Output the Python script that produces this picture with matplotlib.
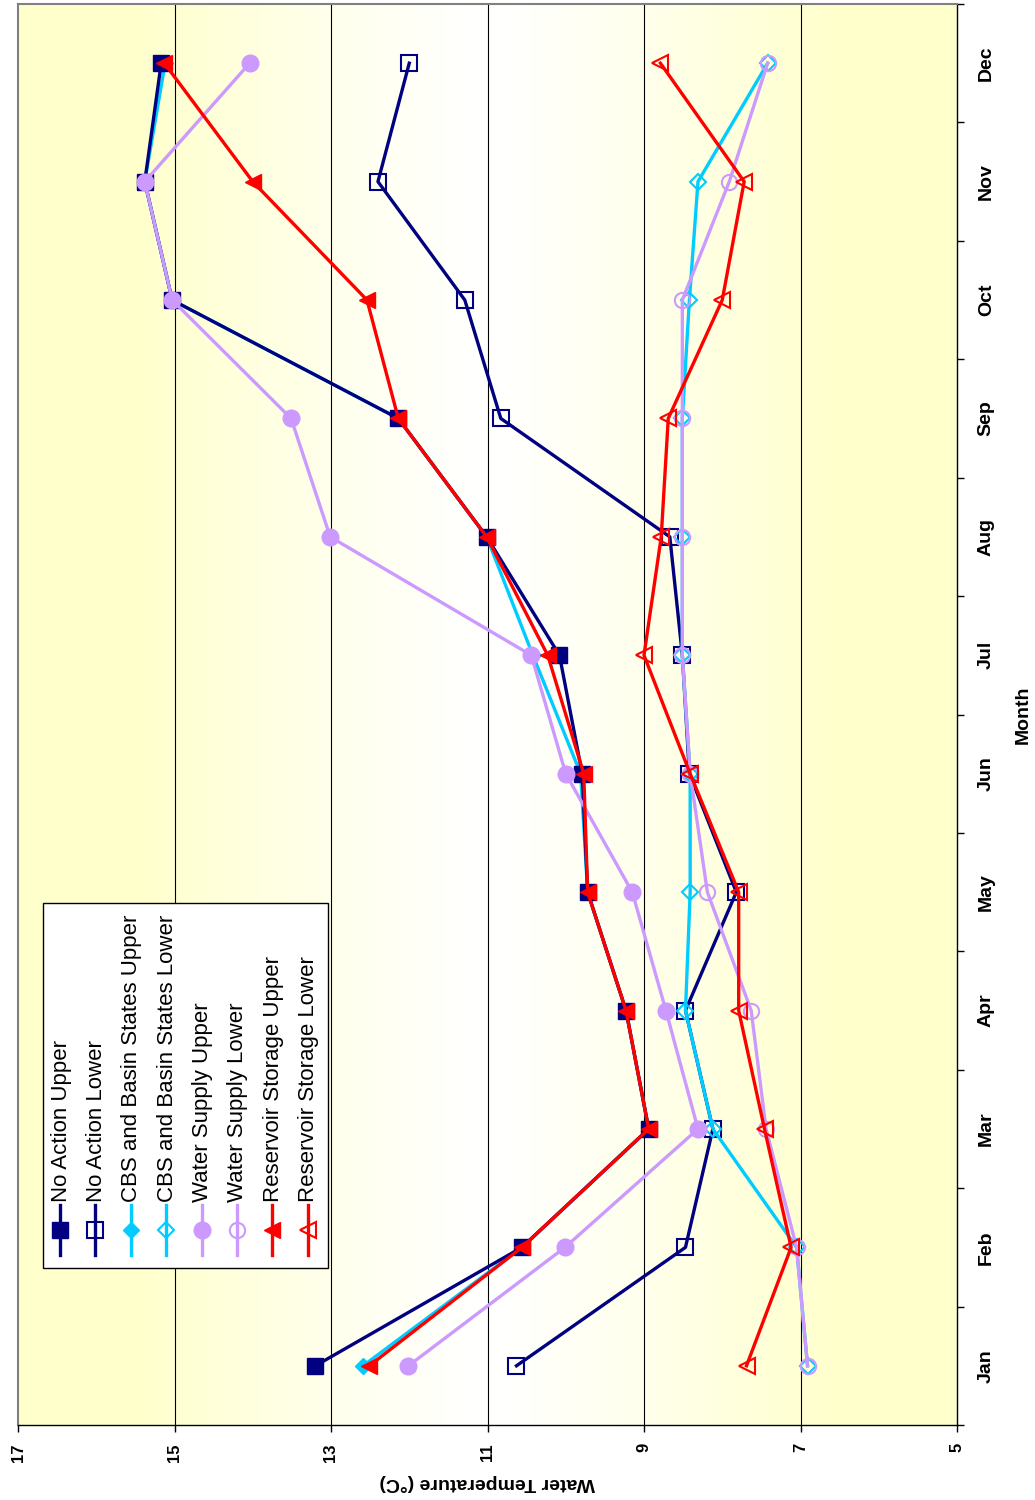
import numpy as np
import matplotlib
matplotlib.use("Agg")
from matplotlib import pyplot as plt
from matplotlib.patches import Rectangle
from matplotlib.ticker import FixedLocator, NullFormatter

plt.rcParams["font.family"] = ["Liberation Sans", "DejaVu Sans"]

months = ["Jan", "Feb", "Mar", "Apr", "May", "Jun", "Jul", "Aug", "Sep", "Oct", "Nov", "Dec"]

no_action_upper = [13.2, 10.56, 8.94, 9.23, 9.72, 9.79, 10.08, 11.01, 12.14, 15.03, 15.38, 15.17]
no_action_lower = [10.63, 8.47, 8.12, 8.47, 7.82, 8.42, 8.51, 8.67, 10.83, 11.29, 12.4, 12.0]
cbs_upper = [12.59, 10.56, 8.94, 9.23, 9.72, 9.81, 10.42, 11.01, 12.14, 15.03, 15.38, 15.12]
cbs_lower = [6.91, 7.05, 8.12, 8.47, 8.41, 8.41, 8.51, 8.51, 8.51, 8.42, 8.31, 7.42]
ws_upper = [12.01, 10.01, 8.31, 8.72, 9.15, 10.0, 10.44, 13.01, 13.51, 15.03, 15.38, 14.04]
ws_lower = [6.91, 7.05, 7.44, 7.63, 8.19, 8.41, 8.51, 8.51, 8.51, 8.51, 7.91, 7.42]
rs_upper = [12.51, 10.56, 8.94, 9.23, 9.72, 9.77, 10.23, 11.01, 12.14, 12.54, 14.0, 15.13]
rs_lower = [7.69, 7.12, 7.46, 7.79, 7.79, 8.41, 9.0, 8.78, 8.69, 8.0, 7.72, 8.79]

temp_ticks = [5, 7, 9, 11, 13, 15, 17]

NAVY = "#000080"
CYAN = "#00CCFF"
LAV = "#CC99FF"
RED = "#FF0000"

# name, values, colour, marker, filled, marker size, zorder
series = [
    ("No Action Upper", no_action_upper, NAVY, "s", True, 12, 3.0),
    ("No Action Lower", no_action_lower, NAVY, "s", False, 11, 3.1),
    ("CBS and Basin States Upper", cbs_upper, CYAN, "D", True, 8, 2.9),
    ("CBS and Basin States Lower", cbs_lower, CYAN, "D", False, 8, 3.3),
    ("Water Supply Upper", ws_upper, LAV, "o", True, 12, 3.4),
    ("Water Supply Lower", ws_lower, LAV, "o", False, 11, 3.5),
    ("Reservoir Storage Upper", rs_upper, RED, "<", True, 12, 3.6),
    ("Reservoir Storage Lower", rs_lower, RED, "<", False, 11, 3.7),
]

fig = plt.figure(figsize=(10.35, 15), dpi=100)
W, H = 1035, 1500
ax = fig.add_axes([18 / W, (H - 1425) / H, (957 - 18) / W, (1425 - 4) / H])

# chart is drawn turned on its side: temperature runs across, months run up
ax.set_xlim(17, 5)
ax.set_ylim(0.5, 12.5)

# yellow - white - yellow gradient background
g = np.abs(np.linspace(-1, 1, 400))
g = np.clip(g / 0.75, 0, 1) ** 1.2
yellow = np.array([1.0, 1.0, 0.80])
white = np.array([1.0, 1.0, 1.0])
img = white[None, None, :] * (1 - g[None, :, None]) + yellow[None, None, :] * g[None, :, None]
ax.imshow(img, extent=[17, 5, 0.5, 12.5], aspect="auto", zorder=0, interpolation="bilinear")

for t in temp_ticks[1:-1]:
    ax.axvline(t, color="black", lw=0.8, zorder=1)

pos = np.arange(1, len(months) + 1)
for name, vals, col, mk, filled, ms, z in series:
    ax.plot(vals, pos, color=col, lw=2.4, marker=mk, ms=ms,
            mfc=col if filled else "none", mec=col, mew=1.5 if not filled else 1,
            zorder=z)

# axes styling
for side in ["left", "top"]:
    ax.spines[side].set_color("#808080")
    ax.spines[side].set_linewidth(1.5)
for side in ["right", "bottom"]:
    ax.spines[side].set_color("black")
    ax.spines[side].set_linewidth(1.0)

ax.set_xticks(temp_ticks)
ax.set_xticklabels([str(t) for t in temp_ticks], rotation=90, fontsize=12,
                   fontweight="bold", va="top", ha="center")
ax.tick_params(axis="x", direction="out", length=5, width=1, pad=8)

ax.yaxis.tick_right()
ax.yaxis.set_major_locator(FixedLocator(np.arange(0.5, 13, 1)))
ax.yaxis.set_major_formatter(NullFormatter())
ax.yaxis.set_minor_locator(FixedLocator(pos))
ax.set_yticklabels(months, minor=True, rotation=90, fontsize=14,
                   fontweight="bold", va="center")
ax.tick_params(axis="y", which="major", direction="out", length=5, width=1,
               right=True, left=False)
ax.tick_params(axis="y", which="minor", length=0, pad=15, right=True, left=False)

ax.yaxis.set_label_position("right")
ax.set_ylabel("Month", rotation=90, fontsize=14, fontweight="bold", labelpad=14)
ax.set_xlabel("Water Temperature (°C)", rotation=180, fontsize=14,
              fontweight="bold", labelpad=9)

# legend, drawn by hand because it is rotated with the chart
ov = fig.add_axes([0, 0, 1, 1])
ov.set_xlim(0, W)
ov.set_ylim(H, 0)
ov.axis("off")
ov.add_patch(Rectangle((43, 903), 285, 365, facecolor="white",
                       edgecolor="black", lw=1, zorder=1))
for i, (name, vals, col, mk, filled, ms, z) in enumerate(series):
    lx = 60 + i * 35.4
    ov.plot([lx, lx], [1205, 1255], color=col, lw=2.4, zorder=2)
    ov.plot([lx], [1230], color=col, marker=mk, ms=ms,
            mfc=col if filled else "none", mec=col,
            mew=1.5 if not filled else 1, zorder=3)
    ov.text(lx + 1, 1202, name, rotation=90, fontsize=16, ha="center",
            va="bottom", zorder=4)

fig.savefig("out.png", dpi=100)
